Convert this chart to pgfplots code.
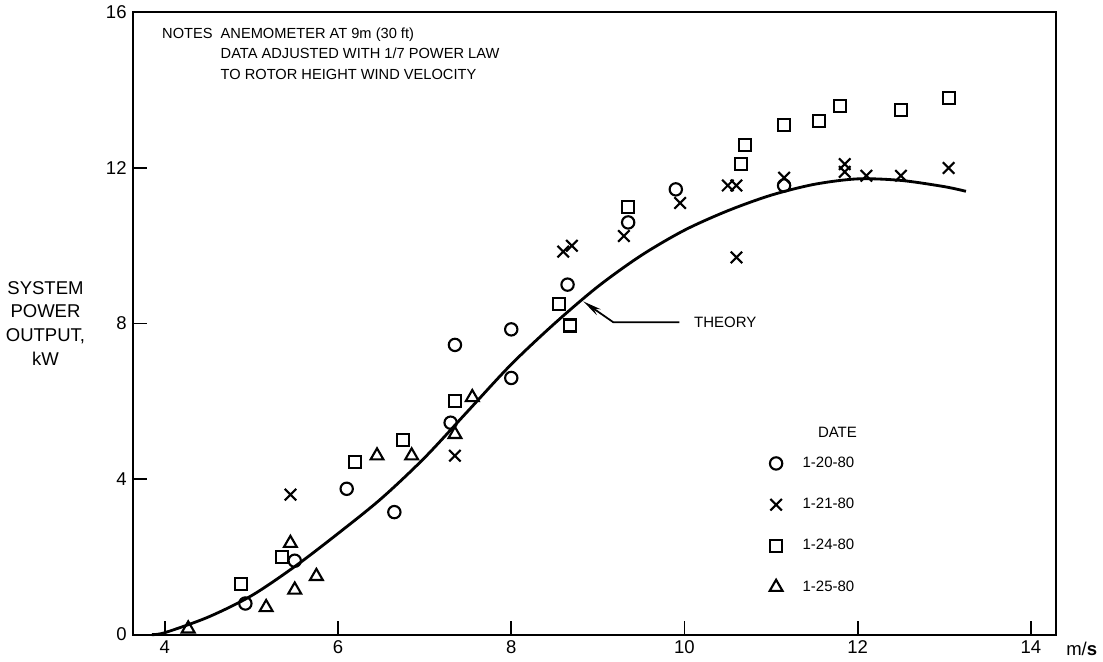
\documentclass[border=0pt]{standalone}
\usepackage{fontspec}
\setmainfont{Liberation Sans}
\usepackage{pgfplots}
\pgfplotsset{compat=1.18}
\usetikzlibrary{arrows.meta}

\begin{document}
\begin{tikzpicture}
\begin{axis}[
    scale only axis,
    width=18.4cm, height=12.4cm,
    xmin=3.63, xmax=14.29,
    ymin=0, ymax=16,
    xtick={4,6,8,10,12,14},
    ytick={0,4,8,12,16},
    tick align=inside,
    xtick pos=bottom, ytick pos=left,
    major tick length=0.28cm,
    axis line style={line width=1.1pt},
    tick style={line width=1pt, black},
    ticklabel style={font=\fontsize{10.5}{12}\selectfont},
    /pgf/number format/assume math mode=true,
    clip=false,
    legend style={draw=none, fill=none, inner sep=0pt,
        at={(axis cs:10.98,4.67)}, anchor=north west,
        row sep=0.42cm,
        font=\fontsize{8.5}{10}\selectfont,
        /tikz/every odd column/.style={column sep=0.33cm}},
    legend cell align=left,
]

% theory curve
\addplot[line width=1.6pt, smooth, forget plot] coordinates {
    (3.85,0) (4,0.05) (4.5,0.45) (5,1.0) (5.5,1.75) (6,2.6) (6.5,3.5)
    (7,4.55) (7.5,5.75) (8,6.95) (8.5,8.0) (9,8.95) (9.5,9.75)
    (10,10.4) (10.5,10.9) (11,11.3) (11.5,11.58) (12,11.72)
    (12.5,11.68) (13,11.52) (13.25,11.4)
};

% 1-20-80
\addplot[only marks, mark=o, mark size=3.5pt, mark options={line width=1.2pt}] coordinates {
    (4.93,0.8) (5.5,1.9) (6.1,3.75) (6.65,3.15) (7.3,5.45) (7.35,7.45)
    (8.0,7.85) (8.0,6.6) (8.65,9.0) (9.35,10.6) (9.9,11.45) (11.15,11.55)
};
\addlegendentry{1-20-80}

% 1-21-80
\addplot[only marks, mark=x, mark size=4.6pt, mark options={line width=1.2pt}] coordinates {
    (5.45,3.6) (7.35,4.6) (8.6,9.85) (8.7,10.0) (9.3,10.25) (9.95,11.1)
    (10.5,11.55) (10.6,11.55) (10.6,9.7) (11.15,11.75) (11.85,12.1)
    (11.85,11.9) (12.1,11.8) (12.5,11.8) (13.05,12.0)
};
\addlegendentry{1-21-80}

% 1-24-80
\addplot[only marks, mark=square, mark size=3.4pt, mark options={line width=1.2pt}] coordinates {
    (4.88,1.3) (5.35,2.0) (6.2,4.45) (6.75,5.0) (7.35,6.0) (8.55,8.5)
    (8.68,7.95) (9.35,11.0) (10.65,12.1) (10.7,12.6) (11.15,13.1)
    (11.55,13.2) (11.8,13.6) (12.5,13.5) (13.05,13.8)
};
\addlegendentry{1-24-80}

% 1-25-80
\addplot[only marks, mark=triangle, mark size=4.2pt, mark options={line width=1.2pt}] coordinates {
    (4.27,0.15) (5.17,0.7) (5.45,2.35) (5.5,1.15) (5.75,1.5) (6.45,4.6)
    (6.85,4.6) (7.35,5.15) (7.55,6.1)
};
\addlegendentry{1-25-80}

% annotations
\node[anchor=west, font=\fontsize{8.5}{10}\selectfont] at (axis cs:11.47,5.19) {DATE};
\draw[line width=1pt, -{Stealth[length=0.38cm, width=0.14cm]}]
    (axis cs:9.94,8.03) -- (axis cs:9.18,8.03) -- (axis cs:8.83,8.57);
\node[anchor=west, font=\fontsize{8.5}{10}\selectfont] at (axis cs:10.04,8.03) {THEORY};
\node[anchor=north west, align=left, inner sep=0pt, font=\fontsize{8.3}{11.6}\selectfont]
    at (rel axis cs:0,1) [xshift=0.58cm, yshift=-0.22cm]
    {\begin{tabular}{@{}l@{\hspace{0.55em}}l@{}}
     NOTES & ANEMOMETER AT 9m (30 ft)\\
           & DATA ADJUSTED WITH 1/7 POWER LAW\\
           & TO ROTOR HEIGHT WIND VELOCITY
     \end{tabular}};
\node[align=center, font=\fontsize{10.5}{13.6}\selectfont] at (rel axis cs:0,0.5) [xshift=-1.74cm]
    {SYSTEM\\POWER\\OUTPUT,\\kW};
\node[anchor=base west, font=\fontsize{10.5}{12}\selectfont] at (rel axis cs:1,0) [xshift=0.08cm, yshift=-0.42cm] {m/\textbf{s}};
\end{axis}
\end{tikzpicture}
\end{document}
